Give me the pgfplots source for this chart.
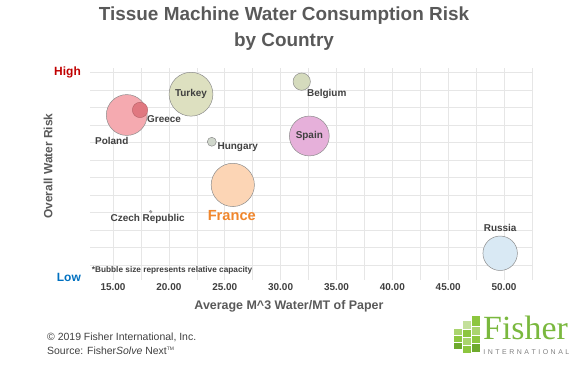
\documentclass[border=0pt]{standalone}
\usepackage{fontspec}
\setmainfont{Liberation Sans}
\newfontfamily\seriffont{Liberation Serif}
\usepackage{pgfplots}
\pgfplotsset{compat=1.18}
\definecolor{tgray}{HTML}{595959}
\definecolor{lgray}{HTML}{404040}
\definecolor{ggrid}{HTML}{E6E6E6}
\definecolor{bgray}{HTML}{8C8C8C}
\definecolor{cPoland}{HTML}{F5AAB0}
\definecolor{cGreece}{HTML}{E07880}
\definecolor{cTurkey}{HTML}{DDE0C0}
\definecolor{cBelgium}{HTML}{D5DBBD}
\definecolor{cSpain}{HTML}{E6B0DA}
\definecolor{cHungary}{HTML}{D0D7CC}
\definecolor{cFrance}{HTML}{FCD5B5}
\definecolor{cCzech}{HTML}{A0A0A0}
\definecolor{cRussia}{HTML}{D9E9F4}
\definecolor{hred}{HTML}{C00000}
\definecolor{lblue}{HTML}{0070C0}
\definecolor{orangeF}{HTML}{F0862C}
\definecolor{fgreen}{RGB}{122,184,62}
\definecolor{fg1}{RGB}{141,198,63}
\definecolor{fg2}{RGB}{170,212,110}
\definecolor{fg3}{RGB}{110,170,45}
\definecolor{fg4}{RGB}{196,224,155}
\newcommand\lab{\bfseries\fontsize{10}{12}\selectfont}
\begin{document}
\begin{tikzpicture}
\path[use as bounding box] (0,0) rectangle (578bp,-367bp);
\node[font=\bfseries\fontsize{19}{26}\selectfont, text=tgray, align=center] at (284bp,-29bp) {Tissue Machine Water Consumption Risk\\by Country};
\begin{axis}[
  at={(90bp,-280bp)}, anchor=south west,
  scale only axis, width=442bp, height=212bp,
  xmin=12.94, xmax=52.5, ymin=0.14, ymax=12.27,
  axis line style={draw=none},
  major tick length=0pt, minor tick length=0pt,
  xtick={15,20,...,50},
  minor xtick={17.5,22.5,...,52.5},
  ytick={1,2,...,12},
  yticklabels={},
  grid=both,
  grid style={draw=ggrid, line width=0.5pt},
  minor grid style={draw=ggrid, line width=0.5pt},
  xticklabel style={/pgf/number format/.cd, fixed, fixed zerofill, precision=2, assume math mode=true, /tikz/.cd, font=\bfseries\fontsize{10}{12}\selectfont, text=lgray},
  xlabel={Average M\^{}3 Water/MT of Paper},
  xlabel style={at={(axis description cs:0.5,0)}, anchor=center, xshift=-22bp, yshift=-26bp, font=\bfseries\fontsize{12.5}{14}\selectfont, text=tgray},
  clip=false,
]
\addplot[only marks, mark=*, mark size=20.5, mark options={fill=cPoland, draw=bgray, line width=0.5pt},
  nodes near coords={Poland}, every node near coord/.append style={anchor=center, xshift=-15bp, yshift=-25.7bp, font=\lab, text=lgray}]
  coordinates {(16.23,9.58)};
\addplot[only marks, mark=*, mark size=7.7, mark options={fill=cGreece, draw=cGreece!80!black, line width=0.4pt},
  nodes near coords={Greece}, every node near coord/.append style={anchor=center, xshift=24bp, yshift=-9bp, font=\lab, text=lgray}]
  coordinates {(17.42,9.87)};
\addplot[only marks, mark=*, mark size=22, mark options={fill=cTurkey, draw=bgray, line width=0.5pt},
  nodes near coords={Turkey}, every node near coord/.append style={anchor=center, font=\lab, text=lgray}]
  coordinates {(21.98,10.77)};
\addplot[only marks, mark=*, mark size=8.7, mark options={fill=cBelgium, draw=bgray, line width=0.5pt},
  nodes near coords={Belgium}, every node near coord/.append style={anchor=center, xshift=25bp, yshift=-12.6bp, font=\lab, text=lgray}]
  coordinates {(31.89,11.49)};
\addplot[only marks, mark=*, mark size=20, mark options={fill=cSpain, draw=bgray, line width=0.5pt},
  nodes near coords={Spain}, every node near coord/.append style={anchor=center, font=\lab, text=lgray}]
  coordinates {(32.57,8.38)};
\addplot[only marks, mark=*, mark size=4.5, mark options={fill=cHungary, draw=bgray, line width=0.5pt},
  nodes near coords={Hungary}, every node near coord/.append style={anchor=center, xshift=26bp, yshift=-5.6bp, font=\lab, text=lgray}]
  coordinates {(23.84,8.05)};
\addplot[only marks, mark=*, mark size=21.7, mark options={fill=cFrance, draw=bgray, line width=0.5pt},
  nodes near coords={France}, every node near coord/.append style={anchor=center, xshift=-1bp, yshift=-30.7bp, font=\bfseries\fontsize{14.7}{16}\selectfont, text=orangeF}]
  coordinates {(25.72,5.58)};
\addplot[only marks, mark=*, mark size=1.5, mark options={fill=cCzech, draw=bgray, line width=0.3pt},
  nodes near coords={Czech Republic}, every node near coord/.append style={anchor=center, xshift=-3bp, yshift=-7bp, font=\lab, text=lgray}]
  coordinates {(18.37,4.05)};
\addplot[only marks, mark=*, mark size=17.3, mark options={fill=cRussia, draw=bgray, line width=0.5pt},
  nodes near coords={Russia}, every node near coord/.append style={anchor=center, yshift=25bp, font=\lab, text=lgray}]
  coordinates {(49.65,1.67)};
\end{axis}
\node[rotate=90, anchor=center, font=\bfseries\fontsize{12}{14}\selectfont, text=tgray, inner sep=0] at (48bp,-166bp) {Overall Water Risk};
\node[anchor=east, font=\bfseries\fontsize{12}{14}\selectfont, text=hred, inner sep=0] at (81bp,-72.7bp) {High};
\node[anchor=east, font=\bfseries\fontsize{12}{14}\selectfont, text=lblue, inner sep=0] at (81bp,-277bp) {Low};
\node[anchor=west, font=\bfseries\fontsize{8.3}{10}\selectfont, text=lgray, inner sep=0] at (91.7bp,-270bp) {*Bubble size represents relative capacity};
\node[anchor=west, font=\fontsize{10.5}{14}\selectfont, text=lgray, inner sep=0] at (47bp,-337bp) {\copyright{} 2019 Fisher International, Inc.};
\node[anchor=west, font=\fontsize{10.5}{14}\selectfont, text=lgray, inner sep=0] at (47bp,-351bp) {Source: Fisher\textit{Solve} Next\textsuperscript{\tiny TM}};
% logo
\node[anchor=base west, font=\seriffont\fontsize{34}{34}\selectfont, text=fgreen, inner sep=0] at (483bp,-339bp) {Fisher};
\node[anchor=center, inner sep=0, font=\fontsize{7}{8}\selectfont, text=gray] at (526.3bp,-351.7bp) {\makebox[86bp][s]{I\hfill N\hfill T\hfill E\hfill R\hfill N\hfill A\hfill T\hfill I\hfill O\hfill N\hfill A\hfill L}};
\fill[fg1] (472bp,-316bp) rectangle (480bp,-326bp);
\fill[fg2] (472bp,-327bp) rectangle (480bp,-335bp);
\fill[fg1] (472bp,-336bp) rectangle (480bp,-343bp);
\fill[fg3] (472bp,-344bp) rectangle (480bp,-352bp);
\fill[fg4] (463bp,-321bp) rectangle (471bp,-329bp);
\fill[fg1] (463bp,-330bp) rectangle (471bp,-337bp);
\fill[fg2] (463bp,-338bp) rectangle (471bp,-345bp);
\fill[fg1] (463bp,-346bp) rectangle (471bp,-353bp);
\fill[fg2] (454bp,-329bp) rectangle (462bp,-335bp);
\fill[fg1] (454bp,-336bp) rectangle (462bp,-342bp);
\fill[fg3] (454bp,-343bp) rectangle (462bp,-349bp);
\end{tikzpicture}
\end{document}
